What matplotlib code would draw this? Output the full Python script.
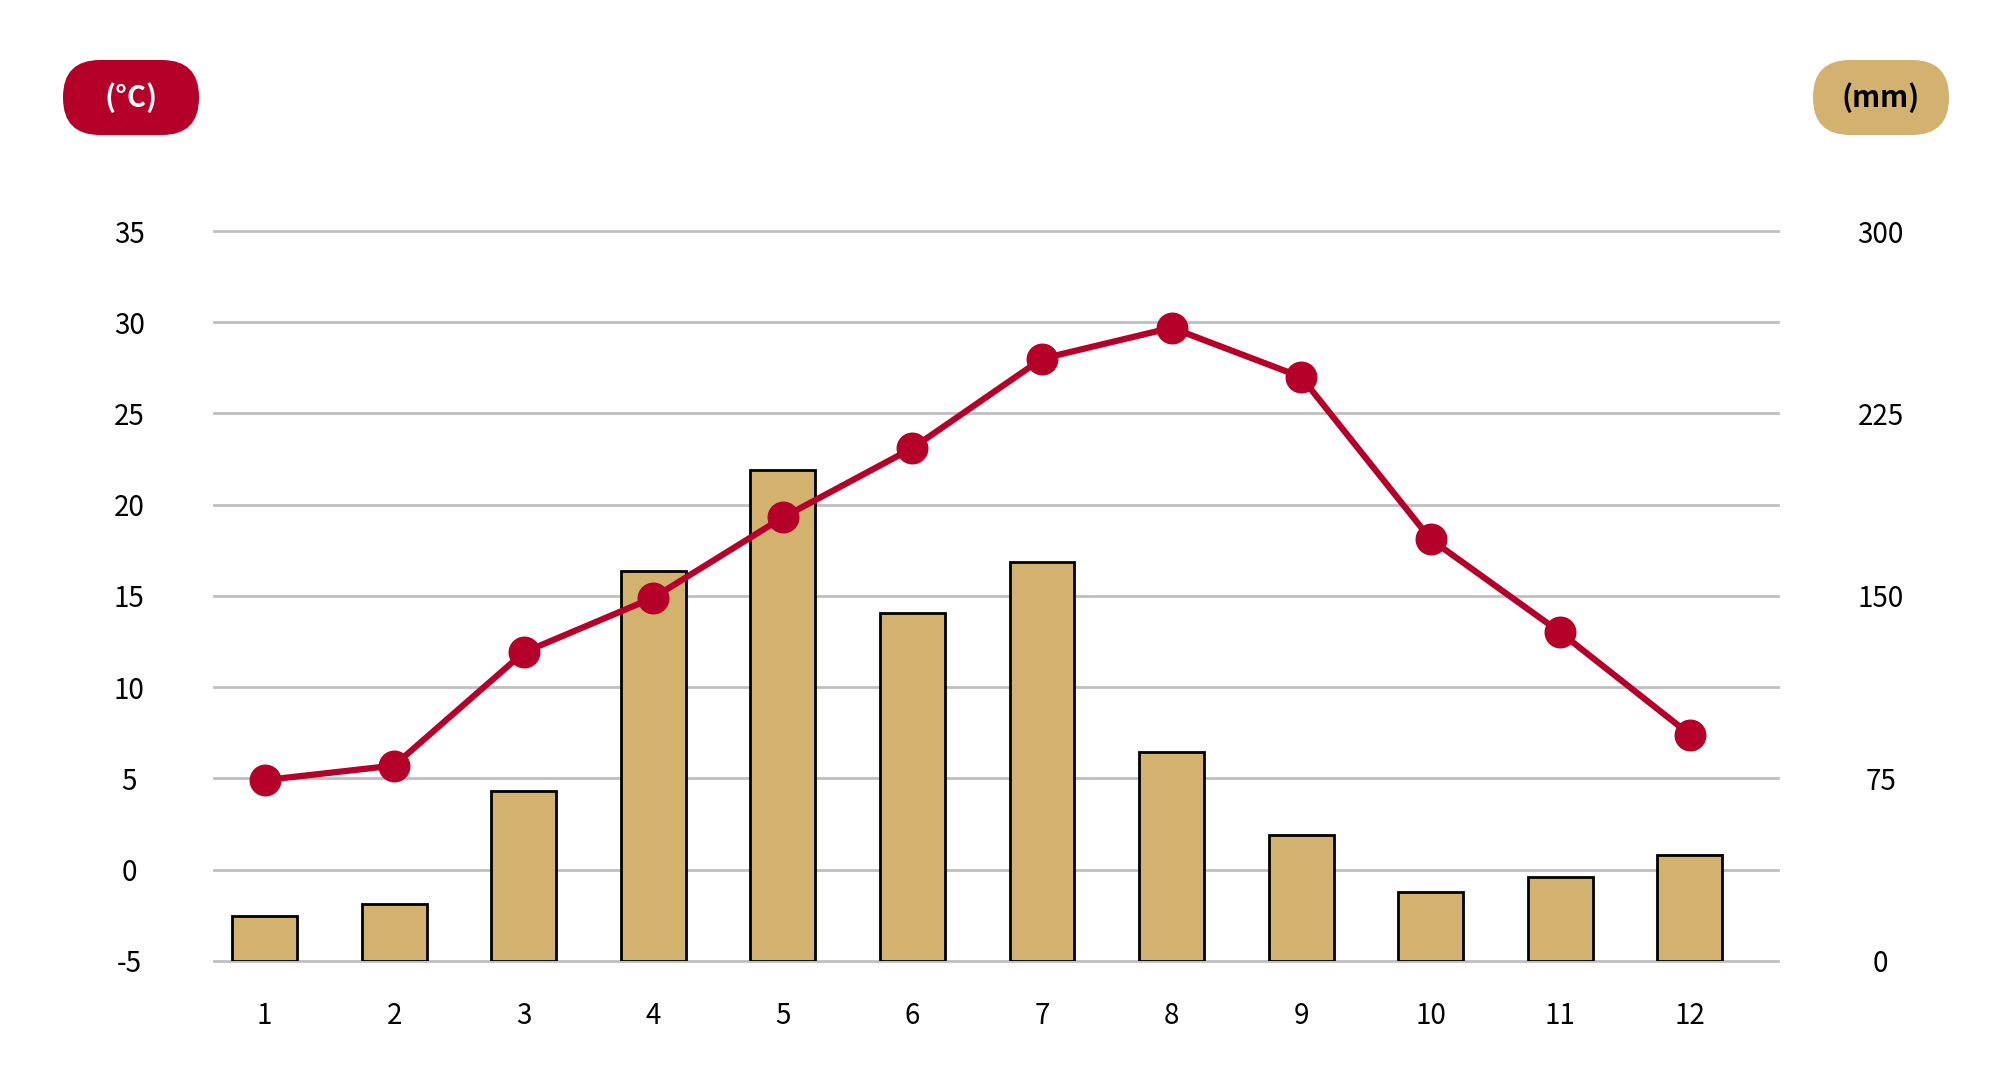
import numpy as np
import matplotlib.pyplot as plt
from matplotlib.patches import FancyBboxPatch

plt.rcParams['font.family'] = ['Noto Sans CJK JP', 'DejaVu Sans']

# monthly data
months = [1, 2, 3, 4, 5, 6, 7, 8, 9, 10, 11, 12]
temp_c = [4.9, 5.7, 11.9, 14.9, 19.3, 23.1, 28.0, 29.7, 27.0, 18.1, 13.0, 7.4]
precip_mm = [18.2, 23.3, 69.6, 160.3, 201.6, 143.0, 164.1, 85.7, 51.6, 28.3, 34.5, 43.3]

temp_ticks = [-5, 0, 5, 10, 15, 20, 25, 30, 35]
precip_ticks = [0, 75, 150, 225, 300]

red = '#B5002A'
tan = '#D3B16F'

fig = plt.figure(figsize=(20, 10.92), dpi=100)

# bars on the base axes (right scale), line on the twin (left scale)
ax = fig.add_axes([0.107, 0.1202, 0.782, 0.6682])
ax.bar(months, precip_mm, width=0.5, color=tan, edgecolor='black', linewidth=2, zorder=3)
ax.set_xlim(0.61, 12.68)
ax.set_ylim(0, 300)
ax.set_yticks(precip_ticks)
ax.set_yticklabels([str(t) for t in precip_ticks])
ax.set_yticks(np.arange(0, 301, 37.5), minor=True)
ax.grid(axis='y', which='both', color='#BFBFBF', linewidth=2, zorder=0, clip_on=False)
ax.set_axisbelow(True)
ax.set_xticks(months)
ax.set_xticklabels([str(m) for m in months])
ax.tick_params(axis='x', length=0, pad=40, labelsize=20)
for lab in ax.get_xticklabels():
    lab.set_verticalalignment('center')

ax2 = ax.twinx()
ax2.plot(months, temp_c, color=red, linewidth=4.5, marker='o', markersize=22, zorder=5)
ax2.set_ylim(-5, 35)
ax2.set_yticks(temp_ticks)
ax2.set_yticklabels([str(t) for t in temp_ticks])
ax2.yaxis.tick_left()
ax2.tick_params(axis='y', length=0, pad=61, labelsize=20)
for lab in ax2.get_yticklabels():
    lab.set_horizontalalignment('center')

# twinx moves the base ticks to the left, so put them back on the right
ax.yaxis.tick_right()
ax.tick_params(axis='y', which='both', length=0, pad=74, labelsize=20)
for lab in ax.get_yticklabels():
    lab.set_horizontalalignment('center')

for a in (ax, ax2):
    for s in a.spines.values():
        s.set_visible(False)

# unit badges
bg = fig.add_axes([0, 0, 1, 1], zorder=-1)
bg.set_xlim(0, 2000)
bg.set_ylim(0, 1092)
bg.axis('off')
fig.add_artist(FancyBboxPatch((63, 1092 - 135), 136, 75, boxstyle='round,pad=0,rounding_size=37',
                              transform=bg.transData, facecolor=red, edgecolor='none'))
fig.add_artist(FancyBboxPatch((1813, 1092 - 135), 136, 75, boxstyle='round,pad=0,rounding_size=37',
                              transform=bg.transData, facecolor=tan, edgecolor='none'))
fig.text(131 / 2000, 1 - 97.5 / 1092, '(°C)', color='white', fontsize=21, fontweight='bold',
         ha='center', va='center')
fig.text(1881 / 2000, 1 - 97.5 / 1092, '(mm)', color='black', fontsize=21, fontweight='bold',
         ha='center', va='center')

fig.savefig('out.png', dpi=100, facecolor='white')
